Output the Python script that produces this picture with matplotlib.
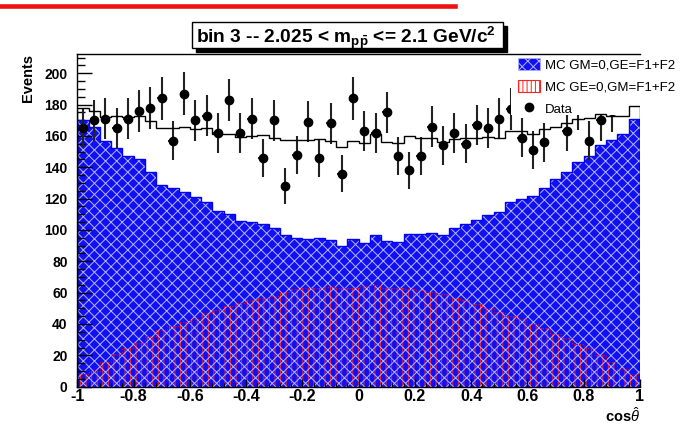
import numpy as np
import matplotlib
matplotlib.use('Agg')
import matplotlib.pyplot as plt
from matplotlib.patches import Patch, Rectangle
from matplotlib.lines import Line2D

plt.rcParams['font.family'] = ['Liberation Sans', 'DejaVu Sans']
plt.rcParams['mathtext.fontset'] = 'custom'
plt.rcParams['mathtext.rm'] = 'Liberation Sans'
plt.rcParams['mathtext.bf'] = 'Liberation Sans:bold'
plt.rcParams['mathtext.it'] = 'Liberation Sans:italic'
plt.rcParams['hatch.linewidth'] = 0.7

# 50 bins of cos(theta) from -1 to 1
edges = np.linspace(-1, 1, 51)
centers = (edges[:-1] + edges[1:]) / 2

mc_ge = [170, 166, 156.5, 152, 147.5, 145, 137, 129, 126.5, 124.5,
         121, 118, 112, 110, 106, 105, 104, 101, 97, 95,
         94.5, 95, 93.5, 90, 94, 91.5, 96.5, 93, 92.5, 97.5,
         97.5, 98, 97, 101.5, 104, 106.5, 109.5, 111.5, 118, 119.5,
         121.5, 127, 132.5, 137, 143.5, 147, 154, 157.5, 161.5, 171]

mc_gm = [8, 10, 15.5, 21, 24.5, 28, 32.5, 36, 38.5, 41.5,
         43.5, 47, 49, 51.5, 53.5, 55, 56.5, 58, 60.5, 62.5,
         63, 63, 63.5, 63, 63, 64, 65, 63, 63, 62.5,
         61.5, 60.5, 59, 56.5, 55, 52.5, 50, 47.5, 45, 43.5,
         40, 37.5, 33.5, 31, 27.5, 24.5, 20, 15.5, 11, 8]

data = [165, 170, 171, 165, 171, 176, 178, 184, 157, 187,
        170, 173, 162, 183, 162, 171, 146, 170, 128, 148,
        169, 146, 168, 136, 184, 163, 162, 175, 147, 138,
        147, 166, 154, 162, 155, 167, 165, 171, 177, 159,
        151, 156, 190, 163, 177, 157, 170, 176, 189, 192]

data_err = [12.8, 13.0, 13.1, 12.8, 13.1, 13.3, 13.3, 13.6, 12.5, 13.7,
            13.0, 13.2, 12.7, 13.5, 12.7, 13.1, 12.1, 13.0, 11.3, 12.2,
            13.0, 12.1, 13.0, 11.7, 13.6, 12.8, 12.7, 13.2, 12.1, 11.7,
            12.1, 12.9, 12.4, 12.7, 12.4, 12.9, 12.8, 13.1, 13.3, 12.6,
            12.3, 12.5, 13.8, 12.8, 13.3, 12.5, 13.0, 13.3, 13.7, 13.9]

labels = ['MC GM=0,GE=F1+F2', 'MC GE=0,GM=F1+F2', 'Data']

blue = '#1010f2'
pattern = '#b4b4ff'
total = np.array(mc_ge) + np.array(mc_gm)

fig = plt.figure(figsize=(6.83, 4.26), dpi=100)
ax = fig.add_axes([0.1132, 0.0923, 0.8238, 0.781])

# blue MC with light cross pattern, red MC pattern underneath
ax.stairs(mc_ge, edges, fill=True, facecolor=blue, edgecolor='none', lw=0, zorder=1)
ax.stairs(mc_gm, edges, fill=True, facecolor='none', edgecolor='#ff2020', hatch='|||', lw=0, zorder=1.2)
ax.stairs(mc_ge, edges, fill=True, facecolor='none', edgecolor=pattern, hatch='xxx', lw=0, zorder=1.4)
ax.stairs(mc_ge, edges, color='#0000ff', lw=1.0, zorder=1.6)
ax.stairs(mc_gm, edges, color='#ff0000', lw=0.8, ls=':', zorder=1.7)

ax.errorbar(centers, data, yerr=data_err, xerr=0.016, fmt='o', color='black',
            ecolor='#222222', elinewidth=1.5, markersize=6, capsize=0, zorder=3)

# legend box hides the points behind it, sum line drawn on top
ax.add_patch(Rectangle((0.771, 0.817), 0.25, 0.17, transform=ax.transAxes,
                       facecolor='white', edgecolor='none', zorder=4, clip_on=False))
ax.stairs(total, edges, color='black', lw=1.0, zorder=5)

handles = [Patch(facecolor=blue, edgecolor=pattern, hatch='xxx', lw=0.5),
           Patch(facecolor='white', edgecolor='#ff2020', hatch='||||', lw=0.8),
           Line2D([], [], marker='o', color='black', ls='none', markersize=6)]
leg = ax.legend(handles, labels, loc='upper left', bbox_to_anchor=(0.783, 0.989),
                frameon=False, fontsize=9.5, handlelength=1.67, handleheight=1.06,
                handletextpad=0.4, labelspacing=0.64, borderpad=0, borderaxespad=0)
leg.set_zorder(6)

ax.set_xlim(-1, 1)
ax.set_ylim(0, 212.3)
ax.set_xticks(np.arange(-1, 1.01, 0.2))
ax.set_xticklabels(['-1', '-0.8', '-0.6', '-0.4', '-0.2', '0', '0.2', '0.4', '0.6', '0.8', '1'])
ax.set_xticks(np.arange(-1, 1.001, 0.04), minor=True)
ax.set_yticks(np.arange(0, 201, 20))
ax.set_yticks(np.arange(0, 212, 5), minor=True)
ax.tick_params(axis='y', which='major', direction='in', length=11, width=1, pad=7, labelsize=10)
ax.tick_params(axis='y', which='minor', direction='in', length=5.5, width=1)
ax.tick_params(axis='x', which='major', direction='in', length=6, width=1, pad=2, labelsize=11.5)
ax.tick_params(axis='x', which='minor', direction='in', length=3, width=0.8)
for lab in ax.get_xticklabels() + ax.get_yticklabels():
    lab.set_fontweight('bold')
for t in ax.yaxis.get_major_ticks() + ax.yaxis.get_minor_ticks() + ax.xaxis.get_major_ticks() + ax.xaxis.get_minor_ticks():
    t.tick1line.set_zorder(7)
ax.spines['right'].set_visible(False)
for s in ['left', 'bottom', 'top']:
    ax.spines[s].set_linewidth(1.0)
    ax.spines[s].set_zorder(7)

ax.set_ylabel('Events', loc='top', fontsize=10.5, fontweight='bold')
ax.yaxis.set_label_coords(-0.075, 1.0)
ax.set_xlabel(r'cos$\hat{\theta}$', loc='right', fontsize=10.5, fontweight='bold')
ax.xaxis.set_label_coords(1.0, -0.06)

# title box with shadow
fig.add_artist(Rectangle((0.2811 + 0.006, 0.8873 - 0.010), 0.4553, 0.0610,
                         transform=fig.transFigure, facecolor='black', edgecolor='black'))
fig.add_artist(Rectangle((0.2811, 0.8873), 0.4553, 0.0610, transform=fig.transFigure,
                         facecolor='white', edgecolor='black', lw=1.0))
fig.text(0.5063, 0.899, r'bin 3 -- 2.025 < m$_{\mathbf{p\bar{p}}}$ <= 2.1 GeV/c$^{\mathbf{2}}$',
         ha='center', va='baseline', fontsize=13.8, fontweight='bold')

# red rule at the top of the slide
fig.add_artist(Line2D([0, 455 / 683], [1 - 5.5 / 426, 1 - 5.5 / 426],
                      transform=fig.transFigure, color='#ee1111', lw=3.3))

fig.savefig('out.png', dpi=100)
